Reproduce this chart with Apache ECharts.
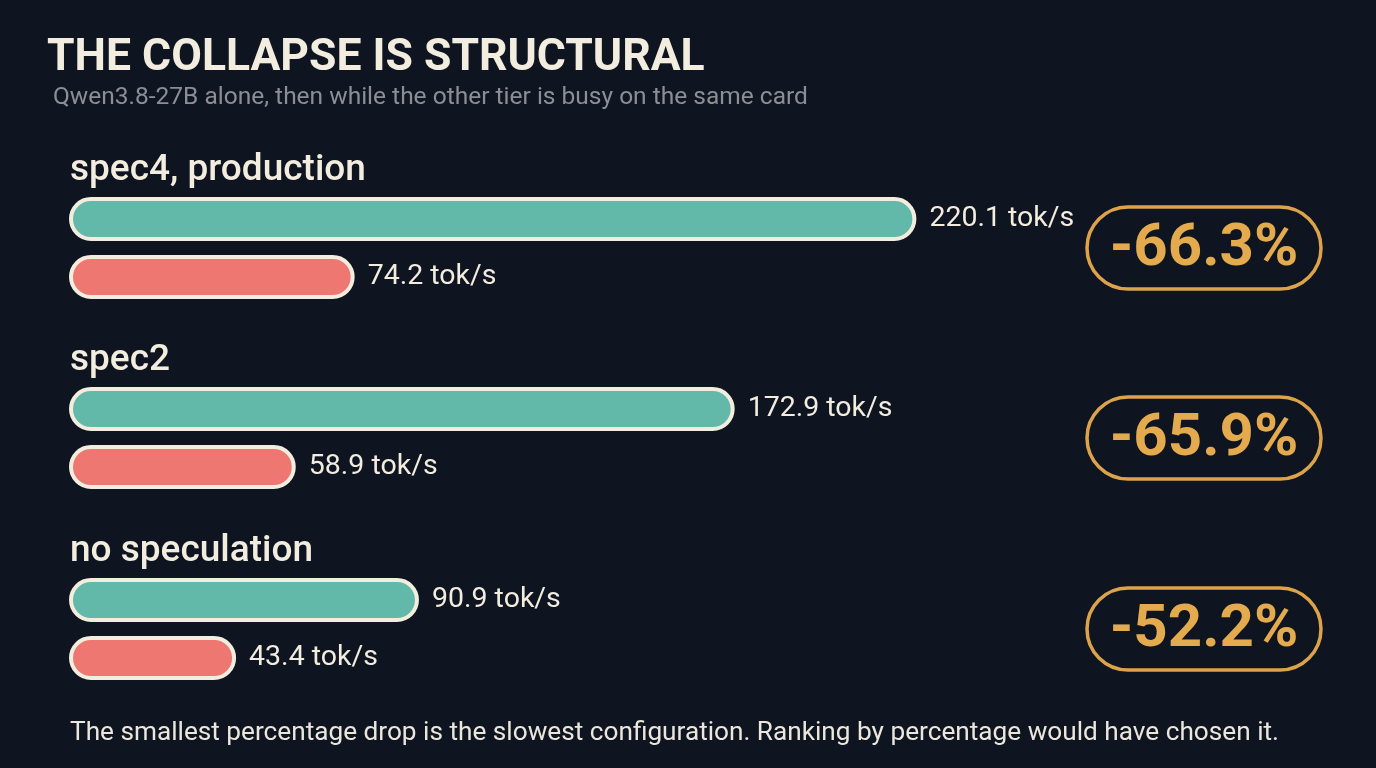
<!DOCTYPE html>
<html>
<head>
<meta charset="utf-8">
<script src="https://cdn.jsdelivr.net/npm/echarts@6/dist/echarts.min.js"></script>
<style>
html,body{margin:0;padding:0;background:#0f1520;}
#chart{width:1376px;height:768px;}
</style>
</head>
<body>
<div id="chart"></div>
<script>
// ---- data ----
const configs = ['spec4, production', 'spec2', 'no speculation'];
const aloneValues = [220.1, 172.9, 90.9];
const busyValues = [74.2, 58.9, 43.4];
const dropLabels = ['-66.3%', '-65.9%', '-52.2%'];
const rowNames = ['alone', 'while other tier busy'];

const titleText = 'THE COLLAPSE IS STRUCTURAL';
const subtitleText = 'Qwen3.8-27B alone, then while the other tier is busy on the same card';
const footerText = 'The smallest percentage drop is the slowest configuration. Ranking by percentage would have chosen it.';

// ---- styling / layout ----
const BG = '#0f1520';
const CREAM = '#f2eddf';
const TEAL = '#62b9aa';
const RED = '#ef7772';
const GOLD = '#dca34b';
const FONT = 'Roboto, "Noto Sans", sans-serif';

const gridLeft = 69, gridWidth = 1001, axisMax = 260;
const groupTops = [190, 380, 571];
const gridHeight = 116;

const grids = [], xAxes = [], yAxes = [], series = [], graphics = [];

configs.forEach((name, i) => {
  grids.push({left: gridLeft, width: gridWidth, top: groupTops[i], height: gridHeight});
  xAxes.push({type: 'value', gridIndex: i, min: 0, max: axisMax, show: false});
  yAxes.push({type: 'category', gridIndex: i, data: rowNames, inverse: true, show: false});
  series.push({
    type: 'bar',
    xAxisIndex: i,
    yAxisIndex: i,
    barWidth: 44,
    silent: true,
    data: [
      {value: aloneValues[i], itemStyle: {color: TEAL}},
      {value: busyValues[i], itemStyle: {color: RED}}
    ],
    itemStyle: {borderColor: CREAM, borderWidth: 4, borderRadius: 22},
    label: {
      show: true,
      position: 'right',
      distance: 13,
      color: CREAM,
      fontFamily: FONT,
      fontSize: 28.5,
      formatter: p => p.value + ' tok/s'
    }
  });
  // group label
  graphics.push({
    type: 'text', x: 70, y: groupTops[i] - 19,
    style: {text: name, fill: CREAM, font: '500 37px ' + FONT, verticalAlign: 'middle'}
  });
  // drop badge
  const cy = groupTops[i] + gridHeight / 2;
  graphics.push({
    type: 'rect',
    shape: {x: 1087, y: cy - 41, width: 234, height: 82, r: 41},
    style: {fill: 'transparent', stroke: GOLD, lineWidth: 3.5}
  });
  graphics.push({
    type: 'text', x: 1204, y: cy + 2,
    style: {text: dropLabels[i], fill: '#e3aa4e', font: 'bold 60px ' + FONT, align: 'center', verticalAlign: 'middle'}
  });
});

graphics.push({
  type: 'text', x: 47, y: 59,
  style: {text: titleText, fill: CREAM, font: 'bold 44.5px ' + FONT, verticalAlign: 'middle'}
});
graphics.push({
  type: 'text', x: 53, y: 98,
  style: {text: subtitleText, fill: '#8b8e94', font: '24.5px ' + FONT, verticalAlign: 'middle'}
});
graphics.push({
  type: 'text', x: 70, y: 733,
  style: {text: footerText, fill: '#ebe7dc', font: '26.2px ' + FONT, verticalAlign: 'middle'}
});

const chart = echarts.init(document.getElementById('chart'));
chart.setOption({
  backgroundColor: BG,
  animation: false,
  grid: grids,
  xAxis: xAxes,
  yAxis: yAxes,
  series: series,
  graphic: graphics
});
</script>
</body>
</html>
